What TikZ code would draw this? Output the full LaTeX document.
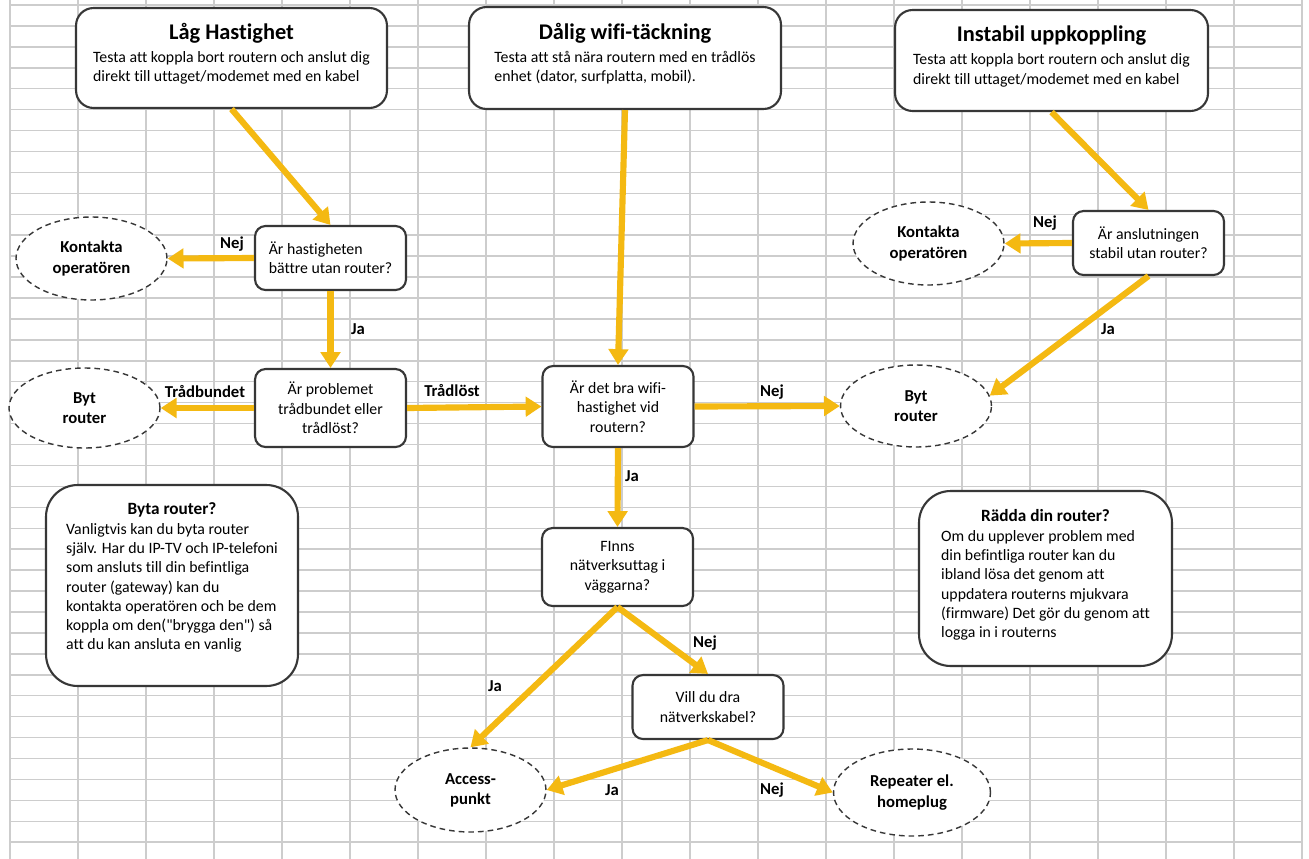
\documentclass[tikz,border=0pt]{standalone}
\usepackage{fontspec}
\setmainfont{Carlito}[Ligatures=NoCommon]
\usetikzlibrary{arrows.meta,shapes.geometric,positioning}

\definecolor{guld}{RGB}{244,185,18}
\definecolor{rutnat}{RGB}{205,205,205}
\definecolor{kant}{RGB}{55,55,55}

\newcommand{\Rubrik}[3]{\begin{tabular}{@{}l@{}}\multicolumn{1}{@{}c@{}}{#1#2}\\#3\end{tabular}}
\newcommand{\Stor}{\fontsize{12.75}{15}\selectfont\bfseries\rule[-5.5pt]{0pt}{0pt}}
\newcommand{\Liten}{\fontsize{9.8}{11}\selectfont\bfseries}

\begin{document}
\begin{tikzpicture}[x=0.02cm, y=-0.02cm,
                    >={Triangle[width=11pt,length=9pt]},
                    flode/.style={->, guld, line width=3.5pt},
                    rubrikruta/.style={draw=kant, line width=1.2pt, fill=white, rounded corners=10pt,
                                       font=\fontsize{9}{11}\selectfont},
                    fraga/.style={draw=kant, line width=1.2pt, fill=white, rounded corners=6pt,
                                  minimum width=3.02cm, font=\fontsize{9}{11}\selectfont},
                    svar/.style={ellipse, draw=kant, dash pattern=on 3.2pt off 2.3pt, line width=0.8pt,
                                 fill=white, minimum width=3.02cm, minimum height=1.66cm, align=center,
                                 font=\fontsize{9.5}{11.5}\selectfont\bfseries},
                    inforuta/.style={draw=kant, line width=1.2pt, fill=white, rounded corners=18pt,
                                     font=\fontsize{9}{11}\selectfont},
                    etikett/.style={font=\fontsize{9.5}{11}\selectfont\bfseries},
                    gridlinje/.style={draw=rutnat, line width=0.85pt}]

    \useasboundingbox (0,0) rectangle (1309,859);
    \fill[white] (0,0) rectangle (1309,859);

    % kalkylbladets rutnat
    \foreach \i in {0,...,19}
        \draw[gridlinje] ({10+68*\i},0) -- ({10+68*\i},859);
    \foreach \j in {0,...,40}
        \draw[gridlinje] (10,{5+20.93*\j}) -- (1302,{5+20.93*\j});

    % rubriker
    \draw(231.5,58) node[rubrikruta, minimum width=6.22cm, minimum height=2cm] (lag)
        {\Rubrik{\Stor}{Låg Hastighet}{Testa att koppla bort routern och anslut dig\\direkt till uttaget/modemet med en kabel\\[3pt]}};
    \draw(625,58) node[rubrikruta, minimum width=6.24cm, minimum height=2.04cm] (dalig)
        {\Rubrik{\Stor}{Dålig wifi-täckning}{Testa att stå nära routern med en trådlös\\enhet (dator, surfplatta, mobil).\\[3pt]}};
    \draw(1051.5,60.5) node[rubrikruta, minimum width=6.26cm, minimum height=2.02cm] (instabil)
        {\Rubrik{\Stor}{Instabil uppkoppling}{Testa att koppla bort routern och anslut dig\\direkt till uttaget/modemet med en kabel\\[3pt]}};

    % fragor
    \draw(330.5,258) node[fraga, minimum height=1.28cm, align=left] (hast) {Är hastigheten\\bättre utan router?};
    \draw(330.5,408) node[fraga, minimum height=1.56cm, align=center] (problem) {Är problemet\\trådbundet eller\\trådlöst?};
    \draw(618,406.5) node[fraga, minimum height=1.62cm, align=center] (wifi) {Är det bra wifi-\\hastighet vid\\routern?};
    \draw(617.5,567) node[fraga, minimum height=1.56cm, align=center] (finns) {FInns\\nätverksuttag i\\väggarna?};
    \draw(708,707) node[fraga, minimum height=1.28cm, align=center] (vill) {Vill du dra\\nätverkskabel?};
    \draw(1148.5,243) node[fraga, minimum height=1.28cm, align=center] (stabil) {Är anslutningen\\stabil utan router?};

    % svar
    \draw(91.5,258.5) node[svar] (kontaktV) {Kontakta\\operatören};
    \draw(84.5,408) node[svar, minimum height=1.6cm] (bytV) {Byt\\router};
    \draw(928.5,243.5) node[svar] (kontaktH) {Kontakta\\operatören};
    \draw(916,406) node[svar, minimum height=1.64cm] (bytH) {Byt\\router};
    \draw(470.5,790) node[svar, minimum height=1.68cm] (access) {Access-\\punkt};
    \draw(912,792.5) node[svar, minimum width=3.14cm, minimum height=1.74cm] (repeater) {Repeater el.\\homeplug};

    % tips
    \draw(172,585.5) node[inforuta, minimum width=5.04cm, minimum height=4.02cm] (byta)
        {\Rubrik{\Liten}{Byta router?}{Vanligtvis kan du byta router\\själv. Har du IP-TV och IP-telefoni\\som ansluts till din befintliga\\router (gateway) kan du\\kontakta operatören och be dem\\koppla om den(\textquotedbl brygga den\textquotedbl) så\\att du kan ansluta en vanlig\\[8pt]}};
    \draw(1045.5,578.5) node[inforuta, minimum width=5.06cm, minimum height=3.5cm] (radda)
        {\Rubrik{\Liten}{Rädda din router?}{Om du upplever problem med\\din befintliga router kan du\\ibland lösa det genom att\\uppdatera routerns mjukvara\\(firmware) Det gör du genom att\\logga in i routerns\\[3pt]}};

    % pilar
    \draw[flode] (lag.south) -- (hast.north);
    \draw[flode] (dalig.south) -- (wifi.north);
    \draw[flode] (instabil.south) -- (stabil.north);
    \draw[flode] (hast.west) -- (kontaktV.east);
    \draw[flode] (hast.south) -- (problem.north);
    \draw[flode] (problem.west) -- (bytV.east);
    \draw[flode] (problem.east) -- (wifi.west);
    \draw[flode] (wifi.east) -- (bytH.west);
    \draw[flode] (wifi.south) -- (finns.north);
    \draw[flode] (stabil.west) -- (kontaktH.east);
    \draw[flode] (stabil.south) -- (bytH.8);
    \draw[flode] (finns.south) -- (vill.north);
    \draw[flode] (finns.south) -- (access.north);
    \draw[flode] (vill.south) -- (access.east);
    \draw[flode] (vill.south) -- (repeater.west);

    % etiketter
    \draw(232,244) node[etikett] (e1) {Nej};
    \draw(358,329) node[etikett] (e2) {Ja};
    \draw(205,392) node[etikett] (e3) {Trådbundet};
    \draw(452,391) node[etikett] (e4) {Trådlöst};
    \draw(772,392) node[etikett] (e5) {Nej};
    \draw(632,476) node[etikett] (e6) {Ja};
    \draw(1045,223) node[etikett] (e7) {Nej};
    \draw(1108,329) node[etikett] (e8) {Ja};
    \draw(705,643) node[etikett] (e9) {Nej};
    \draw(495,686) node[etikett] (e10) {Ja};
    \draw(612,790) node[etikett] (e11) {Ja};
    \draw(772,790) node[etikett] (e12) {Nej};

\end{tikzpicture}
\end{document}
